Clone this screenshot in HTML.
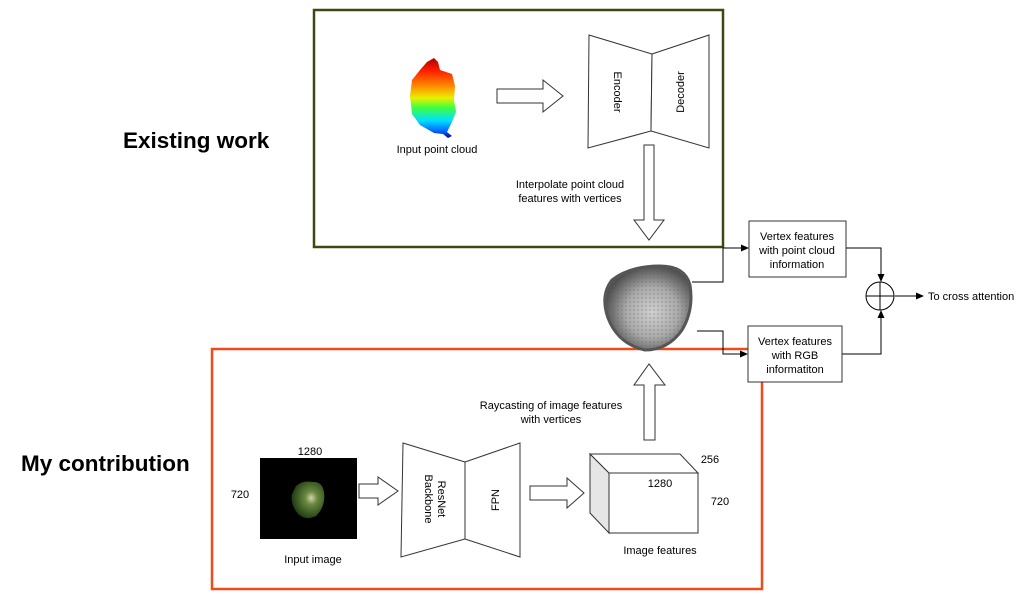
<!DOCTYPE html>
<html><head><meta charset="utf-8"><style>
html,body{margin:0;padding:0;background:#fff;}
svg{display:block;font-family:"Liberation Sans",sans-serif;}
</style></head><body>
<svg width="1027" height="599" viewBox="0 0 1027 599" xmlns="http://www.w3.org/2000/svg">
<defs>
<linearGradient id="pc" x1="0" y1="0" x2="0" y2="1">
<stop offset="0" stop-color="#b00000"/><stop offset="0.15" stop-color="#ff1a00"/>
<stop offset="0.35" stop-color="#ff8a00"/><stop offset="0.5" stop-color="#e8f000"/>
<stop offset="0.62" stop-color="#40ff40"/><stop offset="0.78" stop-color="#00e0ff"/>
<stop offset="0.92" stop-color="#0060ff"/><stop offset="1" stop-color="#000090"/>
</linearGradient>
<radialGradient id="mesh" cx="0.55" cy="0.55" r="0.55">
<stop offset="0" stop-color="#d0d0d0"/><stop offset="0.55" stop-color="#aaaaaa"/><stop offset="1" stop-color="#505050"/>
</radialGradient>
<pattern id="tri" width="4" height="4" patternUnits="userSpaceOnUse"><circle cx="2" cy="2" r="0.7" fill="#666"/></pattern>
<radialGradient id="pep" cx="0.6" cy="0.45" r="0.6">
<stop offset="0" stop-color="#d8d0b0"/><stop offset="0.3" stop-color="#6a8a40"/><stop offset="1" stop-color="#1e3a10"/>
</radialGradient>
<marker id="ah" markerWidth="8" markerHeight="8" refX="7" refY="4" orient="auto" markerUnits="userSpaceOnUse"><path d="M0,0.5 L8,4 L0,7.5 Z" fill="#000"/></marker>
</defs>

<text x="123" y="148" font-size="22.5" font-weight="bold">Existing work</text>
<text x="21" y="471" font-size="22.5" font-weight="bold">My contribution</text>

<rect x="314" y="10" width="409" height="237" fill="none" stroke="#3b4a10" stroke-width="2.5"/>
<rect x="212" y="349" width="550" height="240" fill="none" stroke="#f04a1d" stroke-width="2.5"/>

<path d="M427,62 L434,58 L438,62 L440,70 L452,74 L455,86 L454,100 L456,112 L451,124 L447,132 L452,136 L448,138 L443,134 L434,133 L420,125 L412,114 L410,96 L412,80 L420,70 Z" fill="url(#pc)"/>
<text x="437" y="153" font-size="11" text-anchor="middle">Input point cloud</text>

<path d="M497,89 L543,89 L543,80 L563,96 L543,112 L543,103 L497,103 Z" fill="#fff" stroke="#333" stroke-width="1"/>

<path d="M589,35 L652,54 L651,131 L588,148 Z" fill="#fff" stroke="#333" stroke-width="1"/>
<path d="M652,54 L709,35 L709,148 L651,131 Z" fill="#fff" stroke="#333" stroke-width="1"/>
<text transform="translate(614,92) rotate(90)" font-size="11" text-anchor="middle">Encoder</text>
<text transform="translate(684,92) rotate(-90)" font-size="11" text-anchor="middle">Decoder</text>

<path d="M644,145 L654,145 L654,220 L664,220 L649,240 L634,220 L644,220 Z" fill="#fff" stroke="#333" stroke-width="1"/>
<text x="570" y="188" font-size="11" text-anchor="middle">Interpolate point cloud</text>
<text x="570" y="202" font-size="11" text-anchor="middle">features with vertices</text>

<path d="M612,280 Q630,266 660,266 Q685,266 690,285 Q694,310 682,330 Q668,350 645,350 Q618,344 608,318 Q600,295 612,280 Z" fill="url(#mesh)" stroke="#555" stroke-width="3"/>
<path d="M612,280 Q630,266 660,266 Q685,266 690,285 Q694,310 682,330 Q668,350 645,350 Q618,344 608,318 Q600,295 612,280 Z" fill="url(#tri)" opacity="0.6"/>

<polyline points="692,282 723,282 723,248 748,248" fill="none" stroke="#000" stroke-width="1" marker-end="url(#ah)"/>
<polyline points="697,331 723,331 723,354 747,354" fill="none" stroke="#000" stroke-width="1" marker-end="url(#ah)"/>
<polyline points="846,248 881,248 881,281" fill="none" stroke="#000" stroke-width="1" marker-end="url(#ah)"/>
<polyline points="842,354 881,354 881,311" fill="none" stroke="#000" stroke-width="1" marker-end="url(#ah)"/>
<line x1="895" y1="296" x2="923" y2="296" stroke="#000" stroke-width="1" marker-end="url(#ah)"/>

<rect x="749" y="221" width="97" height="56" fill="#fff" stroke="#333" stroke-width="1"/>
<text x="797" y="240" font-size="11" text-anchor="middle">Vertex features</text>
<text x="797" y="254" font-size="11" text-anchor="middle">with point cloud</text>
<text x="797" y="268" font-size="11" text-anchor="middle">information</text>

<rect x="748" y="326" width="94" height="56" fill="#fff" stroke="#333" stroke-width="1"/>
<text x="795" y="345" font-size="11" text-anchor="middle">Vertex features</text>
<text x="795" y="359" font-size="11" text-anchor="middle">with RGB</text>
<text x="795" y="373" font-size="11" text-anchor="middle">informatiton</text>

<circle cx="880" cy="296" r="14" fill="#fff" stroke="#000" stroke-width="1"/>
<line x1="866" y1="296" x2="894" y2="296" stroke="#000"/>
<line x1="880" y1="282" x2="880" y2="310" stroke="#000"/>
<text x="928" y="300" font-size="11">To cross attention</text>

<path d="M644,440 L655,440 L655,385 L665,385 L649,364 L634,385 L644,385 Z" fill="#fff" stroke="#333" stroke-width="1"/>
<text x="551" y="409" font-size="11" text-anchor="middle">Raycasting of image features</text>
<text x="551" y="423" font-size="11" text-anchor="middle">with vertices</text>

<rect x="260" y="458" width="97" height="81" fill="#000"/>
<path d="M296,486 Q303,480 312,482 Q322,481 324,492 Q326,506 316,516 Q306,521 298,514 Q290,504 292,494 Z" fill="url(#pep)"/>
<text x="310" y="455" font-size="11" text-anchor="middle">1280</text>
<text x="240" y="498" font-size="11" text-anchor="middle">720</text>
<text x="313" y="563" font-size="11" text-anchor="middle">Input image</text>

<path d="M359,484 L378,484 L378,477 L398,491 L378,505 L378,498 L359,498 Z" fill="#fff" stroke="#333" stroke-width="1"/>

<path d="M403,443 L465,462 L465,539 L401,557 Z" fill="#fff" stroke="#333" stroke-width="1"/>
<path d="M465,462 L520,443 L520,557 L465,539 Z" fill="#fff" stroke="#333" stroke-width="1"/>
<text transform="translate(438,499) rotate(90)" font-size="11" text-anchor="middle">ResNet</text>
<text transform="translate(425,499) rotate(90)" font-size="11" text-anchor="middle">Backbone</text>
<text transform="translate(499,500) rotate(-90)" font-size="11" text-anchor="middle">FPN</text>

<path d="M530,486 L567,486 L567,478 L584,493 L567,508 L567,500 L530,500 Z" fill="#fff" stroke="#333" stroke-width="1"/>

<path d="M590,454 L609,473 L609,533 L590,513 Z" fill="#e6e6e6" stroke="#333" stroke-width="1"/>
<path d="M590,454 L680,454 L698,473 L609,473 Z" fill="#fff" stroke="#333" stroke-width="1"/>
<rect x="609" y="473" width="89" height="60" fill="#fff" stroke="#333" stroke-width="1"/>
<text x="710" y="463" font-size="11" text-anchor="middle">256</text>
<text x="660" y="487" font-size="11" text-anchor="middle">1280</text>
<text x="720" y="505" font-size="11" text-anchor="middle">720</text>
<text x="660" y="554" font-size="11" text-anchor="middle">Image features</text>
</svg>
</body></html>
